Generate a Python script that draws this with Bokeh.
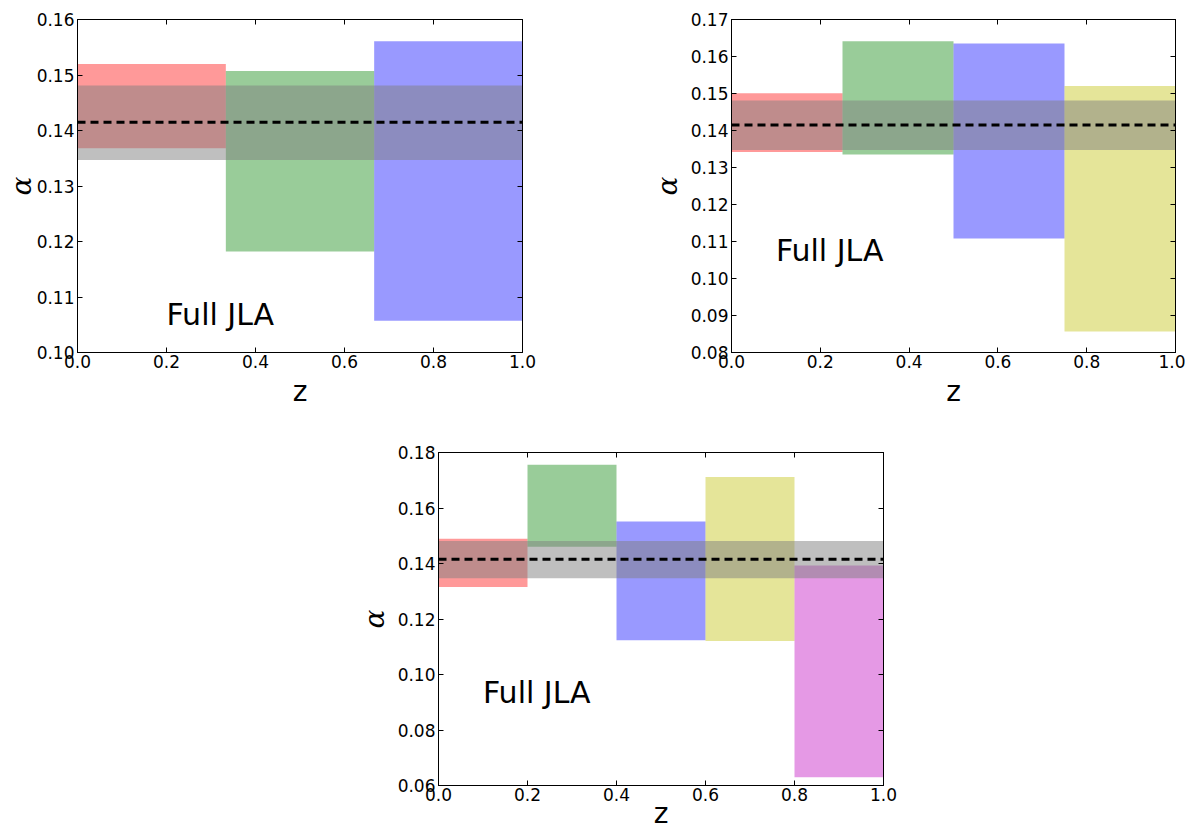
from bokeh.plotting import figure
from bokeh.models import Range1d, FixedTicker, PrintfTickFormatter, LinearAxis
from bokeh.layouts import column, row
from bokeh.embed import file_html
from bokeh.resources import INLINE
from bokeh.core.properties import value

# ---------------- data ----------------
p1_edges = [0.0, 1 / 3, 2 / 3, 1.0]
p1_lo = [0.1368, 0.1182, 0.1057]
p1_hi = [0.1520, 0.1507, 0.1561]

p2_edges = [0.0, 0.25, 0.5, 0.75, 1.0]
p2_lo = [0.1342, 0.1335, 0.1108, 0.0857]
p2_hi = [0.1501, 0.1641, 0.1635, 0.1520]

p3_edges = [0.0, 0.2, 0.4, 0.6, 0.8, 1.0]
p3_lo = [0.1315, 0.1460, 0.1123, 0.1121, 0.0630]
p3_hi = [0.1489, 0.1756, 0.1551, 0.1712, 0.1393]

bin_colors = ["#ff0000", "#008000", "#0000ff", "#bfbf00", "#bf00bf"]

band_lo = 0.1347
band_hi = 0.1481
alpha_best = 0.1415

x_ticks = [0.0, 0.2, 0.4, 0.6, 0.8, 1.0]
p1_yticks = [0.10, 0.11, 0.12, 0.13, 0.14, 0.15, 0.16]
p2_yticks = [0.08, 0.09, 0.10, 0.11, 0.12, 0.13, 0.14, 0.15, 0.16, 0.17]
p3_yticks = [0.06, 0.08, 0.10, 0.12, 0.14, 0.16, 0.18]

label_text = "Full JLA"
x_label = "z"
y_label = "α"

FONT = "DejaVu Sans"


def make_panel(edges, lo, hi, yticks, text_x, text_y, width, height,
               bl, br, bt, bb, xlab_standoff=4, ylab_standoff=4):
    p = figure(width=width, height=height, output_backend="svg",
               toolbar_location=None, tools="",
               x_range=Range1d(edges[0], edges[-1]),
               y_range=Range1d(yticks[0], yticks[-1]),
               min_border_left=bl, min_border_right=br,
               min_border_top=bt, min_border_bottom=bb)
    p.background_fill_color = "white"
    p.border_fill_color = "white"
    p.outline_line_color = "black"
    p.outline_line_width = 1
    p.xgrid.visible = False
    p.ygrid.visible = False

    n = len(lo)
    p.quad(left=edges[:-1], right=edges[1:], bottom=lo, top=hi,
           fill_color=bin_colors[:n], fill_alpha=0.4, line_color=None)
    p.quad(left=[edges[0]], right=[edges[-1]], bottom=[band_lo], top=[band_hi],
           fill_color="#808080", fill_alpha=0.5, line_color=None)
    p.line(x=[edges[0], edges[-1]], y=[alpha_best, alpha_best],
           line_color="black", line_width=3, line_dash="8 5")
    p.text(x=[text_x], y=[text_y], text=[label_text],
           text_font=value(FONT), text_font_size="30px",
           text_baseline="alphabetic", text_align="left", text_color="black",
           y_offset=-10)

    # main axes
    xa = p.xaxis[0]
    xa.ticker = FixedTicker(ticks=x_ticks)
    xa.formatter = PrintfTickFormatter(format="%.1f")
    ya = p.yaxis[0]
    ya.ticker = FixedTicker(ticks=yticks)
    ya.formatter = PrintfTickFormatter(format="%.2f")
    for ax in (xa, ya):
        ax.major_tick_in = 5
        ax.major_tick_out = 0
        ax.minor_tick_line_color = None
        ax.axis_line_color = "black"
        ax.major_tick_line_color = "black"
        ax.major_label_text_font = FONT
        ax.major_label_text_font_size = "17px"
        ax.major_label_text_color = "black"
        ax.axis_label_text_color = "black"
    xa.major_label_standoff = 2
    ya.major_label_standoff = 3
    xa.axis_label = x_label
    xa.axis_label_text_font = FONT
    xa.axis_label_text_font_style = "normal"
    xa.axis_label_text_font_size = "28px"
    xa.axis_label_standoff = xlab_standoff
    ya.axis_label = y_label
    ya.axis_label_text_font = "DejaVu Serif"
    ya.axis_label_text_font_style = "italic"
    ya.axis_label_text_font_size = "28px"
    ya.axis_label_standoff = ylab_standoff

    # mirrored tick-only axes on top and right
    top = LinearAxis(ticker=FixedTicker(ticks=x_ticks))
    right = LinearAxis(ticker=FixedTicker(ticks=yticks))
    for ax in (top, right):
        ax.major_tick_in = 5
        ax.major_tick_out = 0
        ax.minor_tick_line_color = None
        ax.axis_line_color = "black"
        ax.major_tick_line_color = "black"
        ax.major_label_text_font_size = "0px"
        ax.major_label_text_color = None
        ax.major_label_standoff = 0
    p.add_layout(top, "above")
    p.add_layout(right, "right")
    return p


p1 = make_panel(p1_edges, p1_lo, p1_hi, p1_yticks, 0.2, 0.105,
                width=540, height=412, bl=77, br=18, bt=19, bb=60,
                ylab_standoff=-4)
p2 = make_panel(p2_edges, p2_lo, p2_hi, p2_yticks, 0.1, 0.105,
                width=645, height=412, bl=191, br=10, bt=19, bb=60)
p3 = make_panel(p3_edges, p3_lo, p3_hi, p3_yticks, 0.1, 0.09,
                width=903, height=422, bl=438, br=20, bt=40, bb=49,
                xlab_standoff=-7)

layout = column(row(p1, p2), p3)
open("out.html", "w").write(file_html(layout, INLINE))
